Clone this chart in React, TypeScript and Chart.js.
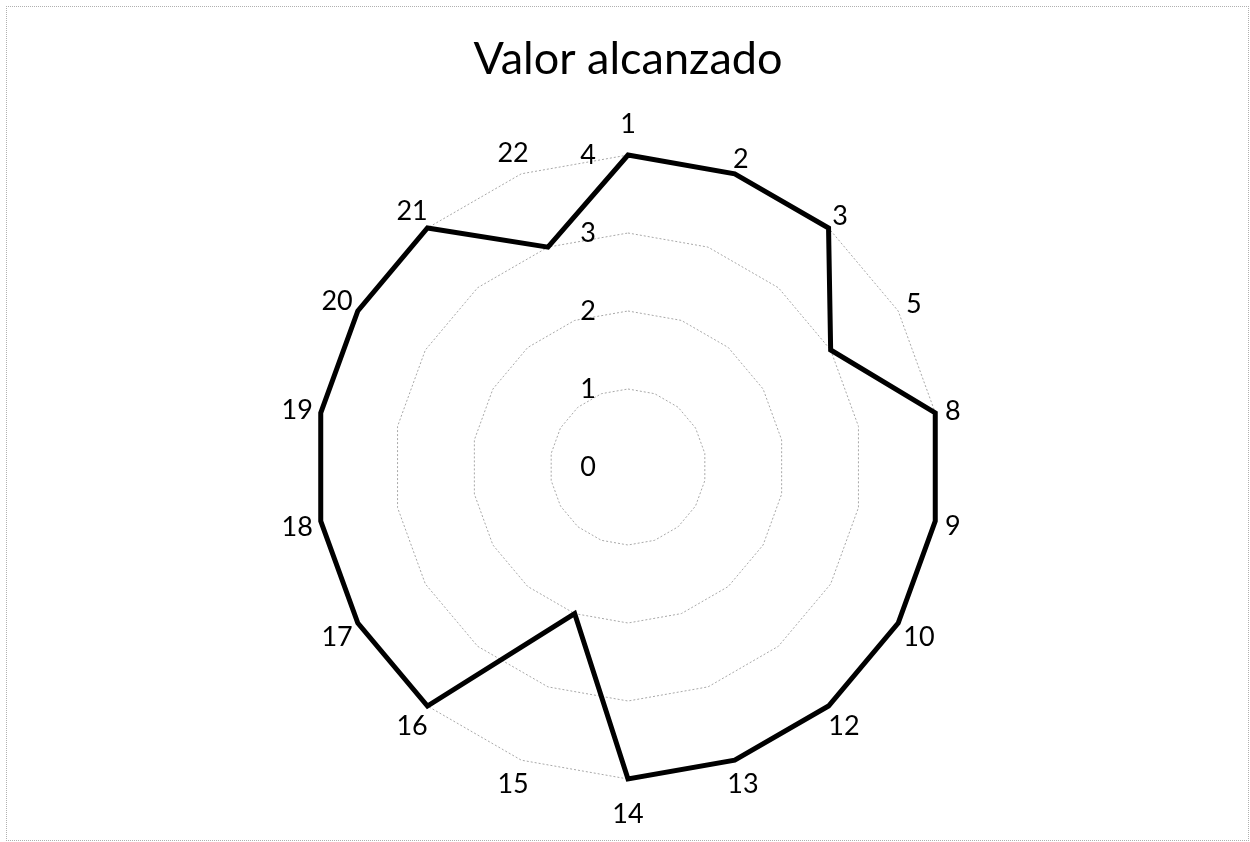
import React, { useEffect, useRef } from "react";
import { Chart, registerables } from "chart.js";

Chart.register(...registerables);

const chartTitle = "Valor alcanzado";
const categories = ["1", "2", "3", "5", "8", "9", "10", "12", "13", "14", "15", "16", "17", "18", "19", "20", "21", "22"];
const values = [4, 4, 4, 3, 4, 4, 4, 4, 4, 4, 2, 4, 4, 4, 4, 4, 4, 3];
const tickValues = [0, 1, 2, 3, 4];

const FONT = "Lato, 'Open Sans', sans-serif";

const labelsPlugin = {
  id: "excelLabels",
  afterDraw(chart: any) {
    const scale = chart.scales.r;
    const ctx = chart.ctx;
    ctx.save();
    ctx.font = `27px ${FONT}`;
    ctx.fillStyle = "#000";
    ctx.textAlign = "center";
    ctx.textBaseline = "middle";
    tickValues.forEach((v) => {
      const d = scale.getDistanceFromCenterForValue(v);
      ctx.fillText(String(v), scale.xCenter - 40, scale.yCenter - d);
    });
    const R = scale.drawingArea;
    categories.forEach((c, i) => {
      const ang = scale.getIndexAngle(i);
      const w = ctx.measureText(c).width;
      const dist = Math.abs(Math.sin(ang)) < 0.01 ? R + 33 : R + 12 + 0.38 * w;
      const p = scale.getPointPosition(i, dist);
      ctx.fillText(c, p.x, p.y + 2);
    });
    ctx.restore();
  },
};

export default function App() {
  const ref = useRef<HTMLCanvasElement | null>(null);
  useEffect(() => {
    if (!ref.current) return;
    const chart = new Chart(ref.current, {
      type: "radar",
      data: {
        labels: categories,
        datasets: [
          {
            label: chartTitle,
            data: values,
            borderColor: "#000",
            borderWidth: 5,
            backgroundColor: "transparent",
            fill: false,
            pointRadius: 0,
            pointHoverRadius: 0,
            tension: 0,
          },
        ],
      },
      options: {
        responsive: false,
        animation: false,
        devicePixelRatio: 1,
        layout: { padding: { left: 316, right: 310, top: 0, bottom: 63 } },
        plugins: {
          legend: { display: false },
          tooltip: { enabled: false },
          title: {
            display: true,
            text: chartTitle,
            color: "#000",
            font: { family: FONT, size: 45, weight: "normal", lineHeight: 1.2 },
            padding: { top: 32, bottom: 69 },
          },
        },
        scales: {
          r: {
            min: 0,
            max: 4,
            ticks: { display: false, stepSize: 1 },
            pointLabels: { display: false },
            angleLines: { display: false },
            grid: { color: "#a8a8a8", lineWidth: 1 },
            border: { dash: [2, 2] },
          },
        },
      },
      plugins: [labelsPlugin],
    } as any);
    return () => chart.destroy();
  }, []);
  return (
    <>
      <canvas
        ref={ref}
        width={1250}
        height={842}
        style={{ position: "fixed", left: 0, top: 0, width: 1250, height: 842, background: "#fff" }}
      />
      <div
        style={{
          position: "fixed",
          left: 6,
          top: 6,
          width: 1243,
          height: 835,
          boxSizing: "border-box",
          border: "1px dotted #b0b0b0",
          pointerEvents: "none",
        }}
      />
    </>
  );
}
